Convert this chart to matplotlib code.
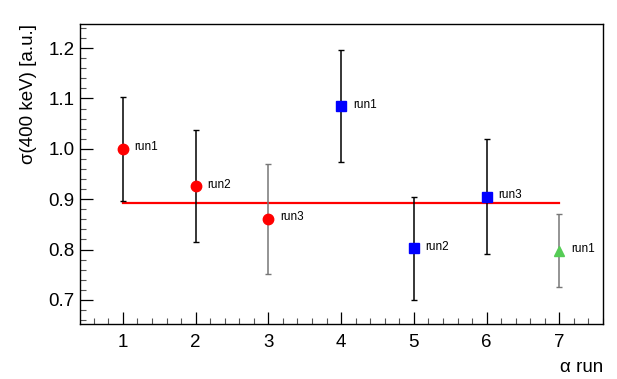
import matplotlib
matplotlib.use("Agg")
from matplotlib import pyplot as plt
from matplotlib.ticker import MultipleLocator

plt.rcParams['font.family'] = ['Liberation Sans', 'DejaVu Sans']

# measurements per alpha run
runs = [1, 2, 3, 4, 5, 6, 7]
sigma = [1.000, 0.926, 0.861, 1.085, 0.802, 0.905, 0.798]
errors = [0.103, 0.112, 0.109, 0.112, 0.102, 0.114, 0.072]
labels = ["run1", "run2", "run3", "run1", "run2", "run3", "run1"]
markers = ["o", "o", "o", "s", "s", "s", "^"]
colors = ["#ff0000", "#ff0000", "#ff0000", "#0000ff", "#0000ff", "#0000ff", "#55cc55"]
bar_colors = ["black", "black", "#777777", "black", "black", "black", "#777777"]
mean_value = 0.893

fig = plt.figure(figsize=(6.17, 3.79), dpi=100)
ax = fig.add_axes([80 / 617, 1 - 324 / 379, 523 / 617, 300 / 379])

ax.plot([runs[0], runs[-1]], [mean_value, mean_value], color="#ff0000", lw=1.6, zorder=1)

for x, y, e, m, c, bc, lab in zip(runs, sigma, errors, markers, colors, bar_colors, labels):
    ax.errorbar(x, y, yerr=e, fmt="none", ecolor=bc, elinewidth=1.1,
                capsize=2.5, capthick=1.0, zorder=2)
    ax.plot(x, y, marker=m, color=c, markersize=7.5 if m != "s" else 7,
            linestyle="none", zorder=3)
    ax.text(x + 0.16, y + 0.003, lab, fontsize=8.5, va="center", ha="left")

ax.set_xlim(0.41, 7.6)
ax.set_ylim(0.652, 1.248)

ax.xaxis.set_major_locator(MultipleLocator(1))
ax.xaxis.set_minor_locator(MultipleLocator(0.2))
ax.yaxis.set_major_locator(MultipleLocator(0.1))
ax.yaxis.set_minor_locator(MultipleLocator(0.02))
ax.yaxis.set_major_formatter(matplotlib.ticker.FormatStrFormatter("%.1f"))

ax.tick_params(which="both", direction="in", top=False, right=False, labelsize=13.5)
ax.tick_params(which="major", length=9, width=0.9)
ax.tick_params(which="minor", length=4.5, width=0.8, color="#555555")
ax.tick_params(axis="x", which="major", pad=7)
ax.tick_params(axis="y", which="major", pad=4)

for sp in ax.spines.values():
    sp.set_linewidth(1.0)

ax.set_xlabel("α run", fontsize=13.5, loc="right", labelpad=6)
ax.set_ylabel("σ(400 keV) [a.u.]", fontsize=13.5, loc="top", labelpad=8)

fig.savefig("out.png", dpi=100)
